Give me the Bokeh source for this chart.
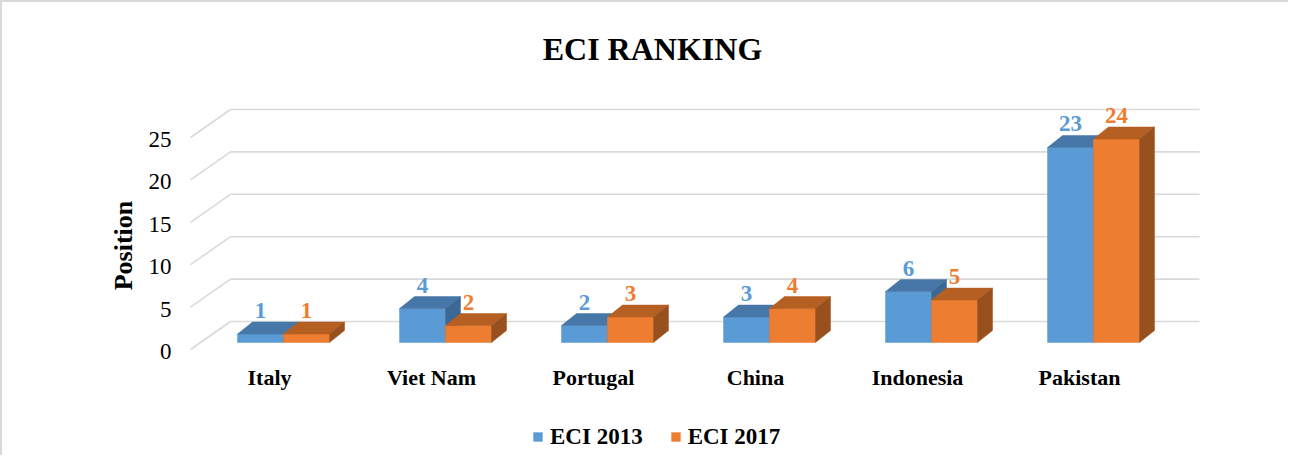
import numpy as np
from bokeh.plotting import figure
from bokeh.models import FixedTicker, Label, Legend, LegendItem, Range1d
from bokeh.embed import file_html
from bokeh.resources import INLINE
from bokeh.core.properties import value

# ---------------- data ----------------
countries = ["Italy", "Viet Nam", "Portugal", "China", "Indonesia", "Pakistan"]
eci_2013 = [1, 4, 2, 3, 6, 23]
eci_2017 = [1, 2, 3, 4, 5, 24]
y_ticks = [0, 5, 10, 15, 20, 25]
series_names = ["ECI 2013", "ECI 2017"]
title_text = "ECI RANKING"
y_label = "Position"

# ---------------- layout constants (canvas pixels) ----------------
W, H = 1288, 455
FL, FR, FT, FB = 183, 1288, 31, 455      # frame edges on the canvas
PPU = 8.48                                # pixels per ranking unit
CAT = 162.0                               # pixels per category
x_start = -(267 - FL) / CAT               # category 0 label centre at canvas x 267
x_end = x_start + (FR - FL) / CAT
y_start = -(FB - 349) / PPU               # value 0 (label plane) at canvas y 349
y_end = y_start + (FB - FT) / PPU


def dx(px):
    return px / CAT


def dy(px):
    return px / PPU


def cx(canvas_x):
    return x_start + (canvas_x - FL) / CAT


def cy(canvas_y):
    return y_start + (FB - canvas_y) / PPU


FONT = "Liberation Serif"
BAR_W = dx(46)
FRONT_DX, FRONT_DY = dx(14), dy(9)       # label plane -> bar front
DEPTH_DX, DEPTH_DY = dx(15), dy(12)      # bar depth
DIAG_DY = dy(2)                           # floor front edge above label plane
WALL_DX, WALL_DY = dx(40), dy(30)        # label plane -> back wall
AXIS_X = cx(188)                          # where floor diagonals start
WALL_END = cx(1197)

colors = [
    dict(front="#5b9bd5", top="#4677a8", side="#3c6896"),
    dict(front="#ed7d31", top="#b65f23", side="#97501e"),
]

p = figure(width=W, height=H, output_backend="svg", toolbar_location=None,
           x_range=Range1d(x_start, x_end), y_range=Range1d(y_start, y_end),
           min_border_left=FL, min_border_right=W - FR,
           min_border_top=FT, min_border_bottom=H - FB,
           background_fill_color="white", border_fill_color="white",
           outline_line_color=None,
           styles={"border-top": "2px solid #d9d9d9", "border-left": "2px solid #d9d9d9"})
p.xgrid.visible = False
p.ygrid.visible = False

# ---------------- back wall gridlines + floor diagonals ----------------
yt = np.array(y_ticks, dtype=float)
p.segment(x0=[AXIS_X] * len(yt), y0=yt + DIAG_DY, x1=[AXIS_X + WALL_DX] * len(yt), y1=yt + WALL_DY,
          line_color="#d9d9d9", line_width=1.6)
p.segment(x0=[AXIS_X + WALL_DX] * len(yt), y0=yt + WALL_DY, x1=[WALL_END] * len(yt), y1=yt + WALL_DY,
          line_color="#d9d9d9", line_width=1.6)

# ---------------- 3D bars ----------------
idx = np.arange(len(countries))
centre = idx + FRONT_DX
legend_items = []
for s, (vals, name) in enumerate(zip([eci_2013, eci_2017], series_names)):
    v = np.array(vals, dtype=float)
    left = centre - BAR_W + s * BAR_W
    right = left + BAR_W
    bottom = np.full_like(v, FRONT_DY)
    top = v + FRONT_DY
    c = colors[s]
    front = p.quad(left=left, right=right, bottom=bottom, top=top,
                   fill_color=c["front"], line_color=c["front"], line_width=0.5)
    top_xs = [[l, r, r + DEPTH_DX, l + DEPTH_DX] for l, r in zip(left, right)]
    top_ys = [[t, t, t + DEPTH_DY, t + DEPTH_DY] for t in top]
    p.patches(top_xs, top_ys, fill_color=c["top"], line_color=c["top"], line_width=0.5)
    side_xs = [[r, r, r + DEPTH_DX, r + DEPTH_DX] for r in right]
    side_ys = [[b, t, t + DEPTH_DY, b + DEPTH_DY] for b, t in zip(bottom, top)]
    p.patches(side_xs, side_ys, fill_color=c["side"], line_color=c["side"], line_width=0.5)
    p.text(x=(left + right) / 2, y=top + dy(23.5), text=[str(int(a)) for a in vals],
           text_align="center", text_baseline="alphabetic",
           text_font=value(FONT), text_font_size="23px", text_font_style="bold",
           text_color=c["front"])
    legend_items.append(LegendItem(label=name, renderers=[front]))

# ---------------- axes ----------------
p.xaxis.fixed_location = cy(346)
p.xaxis.ticker = FixedTicker(ticks=list(idx))
p.xaxis.major_label_overrides = {int(i): n for i, n in zip(idx, countries)}
p.xaxis.axis_line_color = None
p.xaxis.major_tick_line_color = None
p.xaxis.minor_tick_line_color = None
p.xaxis.major_tick_out = 0
p.xaxis.major_label_standoff = 16
p.xaxis.major_label_text_font = FONT
p.xaxis.major_label_text_font_size = "22px"
p.xaxis.major_label_text_font_style = "bold"
p.xaxis.major_label_text_color = "black"

p.yaxis.ticker = FixedTicker(ticks=y_ticks)
p.yaxis.axis_line_color = None
p.yaxis.major_tick_line_color = None
p.yaxis.minor_tick_line_color = None
p.yaxis.major_tick_out = 0
p.yaxis.major_label_standoff = 14
p.yaxis.major_label_text_font = FONT
p.yaxis.major_label_text_font_size = "23px"
p.yaxis.major_label_text_color = "black"
p.yaxis.axis_label = y_label
p.yaxis.axis_label_text_font = FONT
p.yaxis.axis_label_text_font_size = "26px"
p.yaxis.axis_label_text_font_style = "bold"
p.yaxis.axis_label_text_color = "black"
p.yaxis.axis_label_standoff = 8

# ---------------- title ----------------
p.add_layout(Label(x=cx(650), y=cy(46), text=title_text, text_align="center",
                   text_baseline="middle", text_font=FONT, text_font_size="32px",
                   text_font_style="bold", text_color="black"))

# ---------------- legend ----------------
legend = Legend(items=legend_items, orientation="horizontal", location=(347, 7.5),
                label_text_font=FONT, label_text_font_size="23px",
                label_text_font_style="bold", label_text_color="black",
                glyph_width=11, glyph_height=11, label_standoff=7, spacing=27,
                padding=0, margin=0, border_line_color=None, background_fill_alpha=0)
p.add_layout(legend, "center")

open("out.html", "w").write(file_html(p, INLINE))
